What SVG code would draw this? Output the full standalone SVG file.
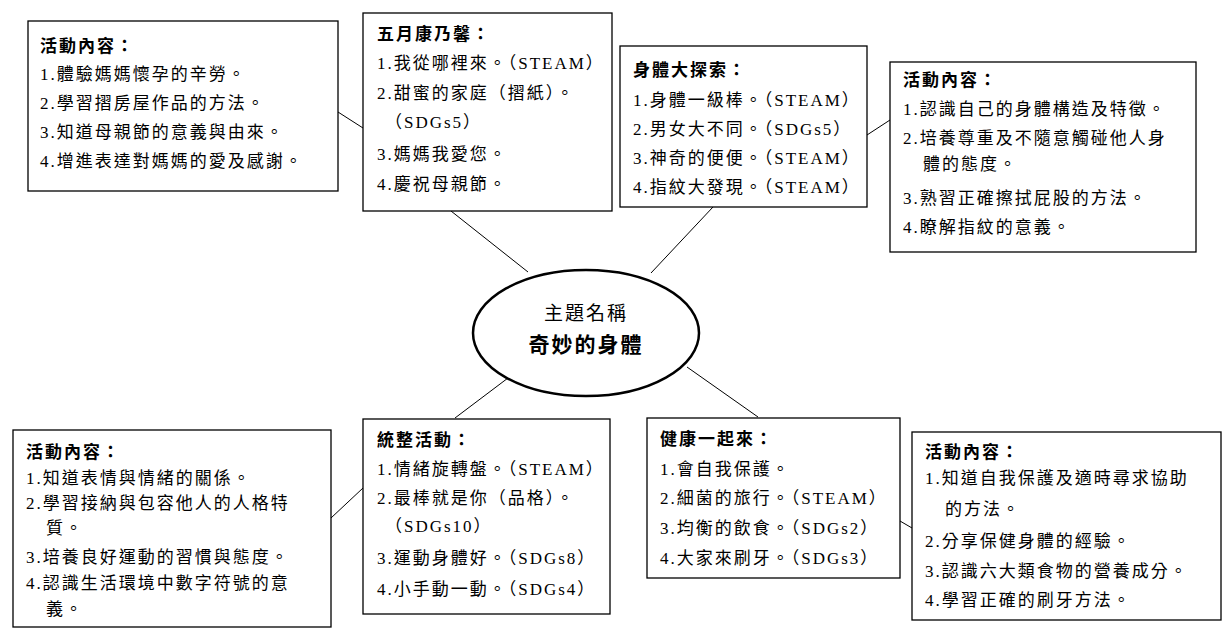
<svg xmlns="http://www.w3.org/2000/svg" width="1231" height="632" viewBox="0 0 1231 632">
<style>
rect{fill:#fff;stroke:#000;stroke-width:1.3}
text{font-family:"Liberation Serif","Noto Sans CJK TC",serif;font-size:17px;letter-spacing:2px;fill:#000}
.t{font-weight:bold}
line{stroke:#000;stroke-width:1}
</style>
<rect width="1231" height="632" fill="#fff" style="stroke:none"/>
<g id="connectors">
<line x1="338" y1="112" x2="363" y2="128"/>
<line x1="451" y1="211" x2="528" y2="272"/>
<line x1="713" y1="207" x2="651" y2="273"/>
<line x1="867" y1="135" x2="890" y2="120"/>
<line x1="508" y1="378" x2="455" y2="418"/>
<line x1="687" y1="367" x2="758" y2="417"/>
<line x1="363" y1="488" x2="331" y2="518"/>
<line x1="900" y1="521" x2="912" y2="528"/>
</g>
<g id="center">
<ellipse cx="586" cy="333" rx="113" ry="63" fill="#fff" stroke="#000" stroke-width="2.5"/>
<text x="586" y="320" text-anchor="middle" style="font-size:19px">主題名稱</text>
<text x="586" y="352" text-anchor="middle" class="t" style="font-size:21px">奇妙的身體</text>
</g>
<g id="boxA">
<rect x="28" y="21" width="310" height="170"/>
<text x="40" y="52" class="t">活動內容：</text>
<text x="40" y="80">1.體驗媽媽懷孕的辛勞。</text>
<text x="40" y="109">2.學習摺房屋作品的方法。</text>
<text x="40" y="138">3.知道母親節的意義與由來。</text>
<text x="40" y="167">4.增進表達對媽媽的愛及感謝。</text>
</g>
<g id="boxB">
<rect x="363" y="13" width="249" height="198"/>
<text x="377" y="40" class="t">五月康乃馨：</text>
<text x="377" y="69">1.我從哪裡來。（STEAM）</text>
<text x="377" y="99">2.甜蜜的家庭（摺紙）。</text>
<text x="385" y="128">（SDGs5）</text>
<text x="377" y="160">3.媽媽我愛您。</text>
<text x="377" y="190">4.慶祝母親節。</text>
</g>
<g id="boxC">
<rect x="620" y="46" width="247" height="161"/>
<text x="633" y="76" class="t">身體大探索：</text>
<text x="633" y="106">1.身體一級棒。（STEAM）</text>
<text x="633" y="135">2.男女大不同。（SDGs5）</text>
<text x="633" y="164">3.神奇的便便。（STEAM）</text>
<text x="633" y="193">4.指紋大發現。（STEAM）</text>
</g>
<g id="boxD">
<rect x="890" y="62" width="306" height="190"/>
<text x="903" y="86" class="t">活動內容：</text>
<text x="903" y="115">1.認識自己的身體構造及特徵。</text>
<text x="903" y="144">2.培養尊重及不隨意觸碰他人身</text>
<text x="923" y="170">體的態度。</text>
<text x="903" y="204">3.熟習正確擦拭屁股的方法。</text>
<text x="903" y="233">4.瞭解指紋的意義。</text>
</g>
<g id="boxE">
<rect x="13" y="430" width="318" height="197"/>
<text x="26" y="458" class="t">活動內容：</text>
<text x="26" y="484">1.知道表情與情緒的關係。</text>
<text x="26" y="509">2.學習接納與包容他人的人格特</text>
<text x="46" y="534">質。</text>
<text x="26" y="563">3.培養良好運動的習慣與態度。</text>
<text x="26" y="589">4.認識生活環境中數字符號的意</text>
<text x="46" y="615">義。</text>
</g>
<g id="boxF">
<rect x="363" y="419" width="247" height="195"/>
<text x="377" y="446" class="t">統整活動：</text>
<text x="377" y="475">1.情緒旋轉盤。（STEAM）</text>
<text x="377" y="504">2.最棒就是你（品格）。</text>
<text x="385" y="532">（SDGs10）</text>
<text x="377" y="564">3.運動身體好。（SDGs8）</text>
<text x="377" y="595">4.小手動一動。（SDGs4）</text>
</g>
<g id="boxG">
<rect x="647" y="418" width="253" height="160"/>
<text x="660" y="445" class="t">健康一起來：</text>
<text x="660" y="475">1.會自我保護。</text>
<text x="660" y="504">2.細菌的旅行。（STEAM）</text>
<text x="660" y="534">3.均衡的飲食。（SDGs2）</text>
<text x="660" y="564">4.大家來刷牙。（SDGs3）</text>
</g>
<g id="boxH">
<rect x="912" y="432" width="309" height="188"/>
<text x="925" y="458" class="t">活動內容：</text>
<text x="925" y="484">1.知道自我保護及適時尋求協助</text>
<text x="945" y="515">的方法。</text>
<text x="925" y="547">2.分享保健身體的經驗。</text>
<text x="925" y="577">3.認識六大類食物的營養成分。</text>
<text x="925" y="606">4.學習正確的刷牙方法。</text>
</g>
</svg>
